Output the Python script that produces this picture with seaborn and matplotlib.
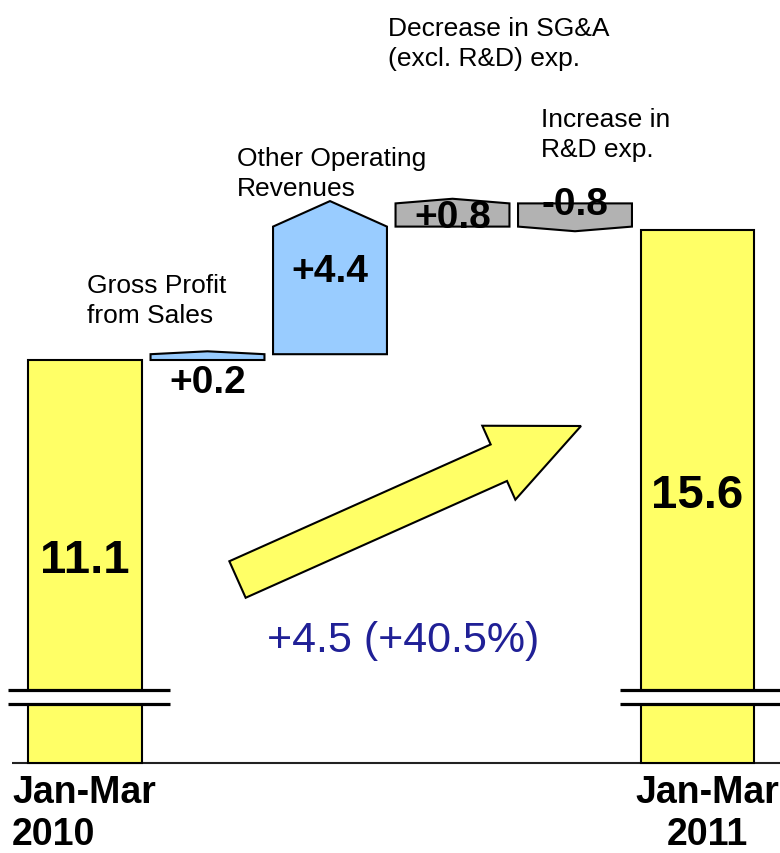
import numpy as np
import pandas as pd
import seaborn as sns
import matplotlib.pyplot as plt
from matplotlib.patches import Polygon

# operating income bridge, Jan-Mar 2010 -> Jan-Mar 2011
steps = ["Jan-Mar 2010", "Gross Profit from Sales", "Other Operating Revenues",
         "Decrease in SG&A", "Increase in R&D", "Jan-Mar 2011"]
totals = [11.1, np.nan, np.nan, np.nan, np.nan, 15.6]
deltas = [np.nan, 0.2, 4.4, 0.8, -0.8, np.nan]
delta_text = ["", "+0.2", "+4.4", "+0.8", "-0.8", ""]
period_labels = ["Jan-Mar\n2010", "Jan-Mar\n2011"]
step_labels = ["Gross Profit\nfrom Sales", "Other Operating\nRevenues",
               "Decrease in SG&A\n(excl. R&D) exp.", "Increase in\nR&D exp."]
change_text = "+4.5 (+40.5%)"

sns.set_style("white")
plt.rcParams["font.family"] = ["Liberation Sans", "DejaVu Sans"]
plt.rcParams["text.color"] = "black"


# pixel helpers for placing annotations (axes fill the whole figure)
def px_x(px):
    return (px - 85) / 122.5


def px_y(py):
    return 11.1 + (361 - py) / 29.0


Y0 = px_y(764)  # axis floor (broken axis)

fig = plt.figure(figsize=(7.8, 8.54), dpi=100)
ax = fig.add_axes([0, 0, 1, 1])

df = pd.DataFrame({"step": steps, "height": np.array(totals) - Y0})
sns.barplot(data=df, x="step", y="height", order=steps, bottom=Y0, width=0.93,
            color="#FFFF66", saturation=1, edgecolor="black", linewidth=1.5,
            ax=ax, zorder=2)

# floating delta bars with arrow caps
level = totals[0]
hw = 0.465
for i, d in enumerate(deltas):
    if np.isnan(d):
        continue
    start, end = level, level + d
    tip = np.sign(d) * max(0.2 * abs(d), 0.1)
    xs = [i - hw, i - hw, i, i + hw, i + hw]
    ys = [start, end, end + tip, end, start]
    fc = "#99CCFF" if i < 3 else "#B2B2B2"
    ax.fill(xs, ys, facecolor=fc, edgecolor="black", lw=1.5, zorder=2)
    level = end

# baseline and axis break marks
ax.hlines(Y0, px_x(12), px_x(780), color="#222222", lw=1.5, zorder=1)
lo, hi = px_y(705), px_y(691)
for c in [0, 5]:
    x0, x1 = c - 0.63, c + 0.69
    ax.fill_between([x0, x1], lo, hi, color="white", zorder=3)
    ax.hlines([lo, hi], x0, x1, color="black", lw=2.3, zorder=4)

# total labels inside yellow bars
for i, v in enumerate(totals):
    if not np.isnan(v):
        ax.text(i, (Y0 + v) / 2 + 0.05, f"{v:.1f}", ha="center", va="center",
                fontsize=34, fontweight="bold", zorder=5)

# delta labels
delta_y = [None, px_y(383), px_y(272), px_y(218), px_y(205), None]
for i, t in enumerate(delta_text):
    if t:
        ax.text(i, delta_y[i], t, ha="center", va="center",
                fontsize=28, fontweight="bold", zorder=5)

# step descriptions (baseline of the last line)
step_pos = [(87, 323), (237, 196), (388, 66), (541, 157)]
for (px, py), t in zip(step_pos, step_labels):
    ax.text(px_x(px), px_y(py), t, ha="left", va="baseline", fontsize=19,
            linespacing=1.32)

# period labels under the bars
ax.text(px_x(12), px_y(845), period_labels[0], ha="left", va="baseline",
        fontsize=27, fontweight="bold", multialignment="left", linespacing=1.2)
ax.text(px_x(707), px_y(845), period_labels[1], ha="center", va="baseline",
        fontsize=27, fontweight="bold", multialignment="center", linespacing=1.2)

# big growth arrow
tail = np.array([237.5, 580.5])
head = np.array([581.0, 427.0])
u = (head - tail) / np.linalg.norm(head - tail)
n = np.array([-u[1], u[0]])
base = head - 90 * u
pts_px = [tail - 20 * n, base - 20 * n, base - 40.5 * n, head,
          base + 40.5 * n, base + 20 * n, tail + 20 * n]
pts = [(px_x(p[0]), px_y(p[1])) for p in pts_px]
ax.add_patch(Polygon(pts, closed=True, facecolor="#FFFF66", edgecolor="black",
                     lw=1.5, zorder=2))

ax.text(px_x(403), px_y(641), change_text, ha="center", va="center",
        fontsize=31, color="#202096", zorder=5)

ax.set_xlim(px_x(0), px_x(780))
ax.set_ylim(px_y(854), px_y(0))
ax.axis("off")

fig.savefig("out.png", dpi=100)
